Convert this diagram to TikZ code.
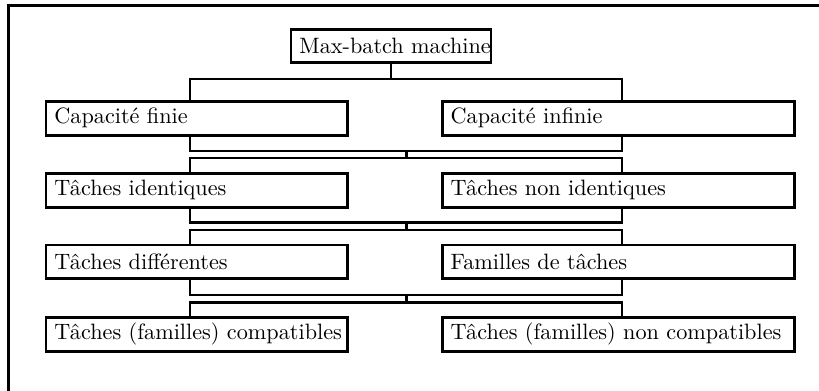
\documentclass[tikz,border=0pt]{standalone}
\usepackage{tikz}
\usetikzlibrary{calc}

\begin{document}
\begin{tikzpicture}[x=0.45pt, y=-0.45pt, line width=1.3pt,
		box/.style = {draw, inner xsep=0pt, inner ysep=0pt, align=left,
			execute at begin node={\hspace*{3.8pt}}},
		rootbox/.style = {box, text width=90pt, minimum height=14.85pt},
		leftbox/.style = {box, text width=135.7pt, minimum height=15.1pt},
		rightbox/.style = {box, text width=158.4pt, minimum height=15.1pt}]
		\useasboundingbox (0,0) rectangle (819,391);

		% cadre
		\draw (819,5.5) -- (8.5,5.5) -- (8.5,391);

		\path[shape=coordinate]
		(190,0) coordinate(colL)
		(622,0) coordinate(colR)
		(391,79) coordinate(t0)
		(406.5,151) coordinate(u1)
		(406.5,158) coordinate(d1)
		(406.5,222.7) coordinate(u2)
		(406.5,230) coordinate(d2)
		(406.5,295) coordinate(u3)
		(406.5,302.3) coordinate(d3);

		\node[rootbox] (root) at (391,46) {Max-batch machine};

		\node[leftbox] (finie) at (196.75,118.3) {Capacité finie};
		\node[rightbox] (infinie) at (618.2,118.3) {Capacité infinie};

		\node[leftbox] (ident) at (196.75,190.3) {Tâches identiques};
		\node[rightbox] (nonident) at (618.2,190.3) {Tâches non identiques};

		\node[leftbox] (diff) at (196.75,261.8) {Tâches différentes};
		\node[rightbox] (fam) at (618.2,261.8) {Familles de tâches};

		\node[leftbox] (compat) at (196.75,334.3) {Tâches (familles) compatibles};
		\node[rightbox] (noncompat) at (618.2,334.3) {Tâches (familles) non compatibles};

		% liaisons
		\draw (root.south) -- (t0);
		\draw (finie.north -| colL) |- (t0) -| (infinie.north -| colR);

		\draw (finie.south -| colL) |- (u1) -| (infinie.south -| colR);
		\draw (u1) -- (d1);
		\draw (ident.north -| colL) |- (d1) -| (nonident.north -| colR);

		\draw (ident.south -| colL) |- (u2) -| (nonident.south -| colR);
		\draw (u2) -- (d2);
		\draw (diff.north -| colL) |- (d2) -| (fam.north -| colR);

		\draw (diff.south -| colL) |- (u3) -| (fam.south -| colR);
		\draw (u3) -- (d3);
		\draw (compat.north -| colL) |- (d3) -| (noncompat.north -| colR);
	\end{tikzpicture}
\end{document}
